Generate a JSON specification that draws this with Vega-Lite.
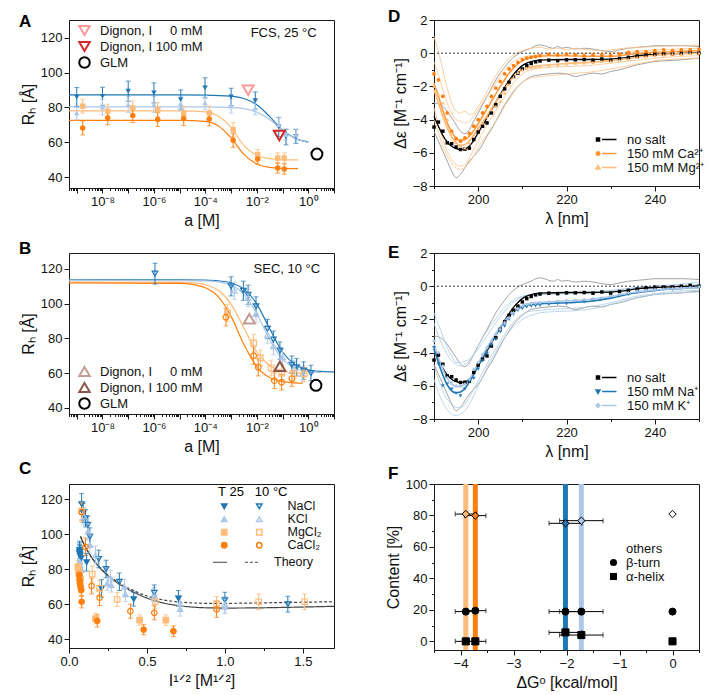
{
  "$schema": "https://vega.github.io/schema/vega-lite/v6.json",
  "padding": {"left": 18, "top": 7, "right": 2, "bottom": 2},
  "config": {
    "font": "Liberation Sans",
    "view": {"stroke": "#1a1a1a", "strokeWidth": 1},
    "axis": {"labelFont": "Liberation Sans", "titleFont": "Liberation Sans", "labelFontSize": 13, "titleFontSize": 16, "titleFontWeight": "normal", "labelColor": "#111", "titleColor": "#111", "tickColor": "#1a1a1a", "domainColor": "#1a1a1a", "grid": false, "labelOverlap": false, "labelFlush": false, "labelPadding": 2, "titlePadding": 4, "tickSize": 5},
    "axisX": {"labelOverlap": false},
    "axisY": {"labelOverlap": false},
    "axisQuantitative": {"labelOverlap": false},
    "legend": {"labelFont": "Liberation Sans", "labelFontSize": 13, "labelColor": "#111", "titleFont": "Liberation Sans", "padding": 0, "rowPadding": 0},
    "title": {"font": "Liberation Sans", "fontSize": 17, "fontWeight": "bold", "anchor": "start", "frame": "group", "baseline": "alphabetic", "color": "#000"}
  },
  "datasets": {
    "aPts": [
      {"s":"NaCl","a":1e-9,"R":85.9,"e":5.5},{"s":"NaCl","a":1e-8,"R":86.4,"e":5.2},{"s":"NaCl","a":1e-7,"R":89.3,"e":5.8},{"s":"NaCl","a":1e-6,"R":88.3,"e":5.8},{"s":"NaCl","a":1.1e-5,"R":84.5,"e":5.5},{"s":"NaCl","a":9.7e-5,"R":91.2,"e":5.8},{"s":"NaCl","a":1e-3,"R":86.0,"e":5.0},{"s":"NaCl","a":0.0087,"R":83.9,"e":5.0},{"s":"NaCl","a":0.071,"R":68.8,"e":5.5},{"s":"NaCl","a":0.136,"R":63.0,"e":4.5},{"s":"NaCl","a":0.33,"R":63.4,"e":4.0},
      {"s":"KCl","a":1e-9,"R":76.8,"e":4},{"s":"KCl","a":1e-8,"R":80.1,"e":4.5},{"s":"KCl","a":1e-7,"R":81.6,"e":4.5},{"s":"KCl","a":1e-6,"R":81.6,"e":4.5},{"s":"KCl","a":1.1e-5,"R":82.2,"e":4},{"s":"KCl","a":9.7e-5,"R":82.6,"e":4},{"s":"KCl","a":1e-3,"R":80.7,"e":4},{"s":"KCl","a":0.0087,"R":79.7,"e":4},{"s":"KCl","a":0.071,"R":70.1,"e":4},{"s":"KCl","a":0.136,"R":64.4,"e":3},{"s":"KCl","a":0.33,"R":64.4,"e":3},
      {"s":"MgCl2","a":1.7e-9,"R":80.7,"e":4},{"s":"MgCl2","a":1.6e-8,"R":77.8,"e":4},{"s":"MgCl2","a":1.5e-7,"R":79.7,"e":4},{"s":"MgCl2","a":1.4e-6,"R":78.8,"e":4},{"s":"MgCl2","a":1.44e-5,"R":76.5,"e":4},{"s":"MgCl2","a":1.42e-4,"R":76.8,"e":4},{"s":"MgCl2","a":1.2e-3,"R":67.2,"e":4},{"s":"MgCl2","a":0.0108,"R":52.9,"e":3},{"s":"MgCl2","a":0.065,"R":50.9,"e":3},{"s":"MgCl2","a":0.117,"R":50.9,"e":3},
      {"s":"CaCl2","a":1.7e-9,"R":68.2,"e":4},{"s":"CaCl2","a":1.6e-8,"R":74.0,"e":4},{"s":"CaCl2","a":1.5e-7,"R":75.3,"e":4},{"s":"CaCl2","a":1.4e-6,"R":73.0,"e":4},{"s":"CaCl2","a":1.44e-5,"R":73.6,"e":4},{"s":"CaCl2","a":1.42e-4,"R":73.4,"e":4},{"s":"CaCl2","a":1.2e-3,"R":61.1,"e":4},{"s":"CaCl2","a":0.0108,"R":50.4,"e":3},{"s":"CaCl2","a":0.065,"R":45.2,"e":3},{"s":"CaCl2","a":0.117,"R":44.6,"e":3}
    ],
    "aFit": [
      {"s":"NaCl","a":5e-10,"R":87.2},{"s":"NaCl","a":1e-5,"R":87.2},{"s":"NaCl","a":1e-4,"R":87.1},{"s":"NaCl","a":1e-3,"R":86.5},{"s":"NaCl","a":0.00316,"R":85.1},{"s":"NaCl","a":0.01,"R":81.5},{"s":"NaCl","a":0.0316,"R":74.7},{"s":"NaCl","a":0.1,"R":67.0},{"s":"NaCl","a":0.316,"R":62.2},{"s":"NaCl","a":1,"R":60.1},
      {"s":"KCl","a":5e-10,"R":80.3},{"s":"KCl","a":1e-4,"R":80.3},{"s":"KCl","a":1e-3,"R":80.0},{"s":"KCl","a":0.00316,"R":79.3},{"s":"KCl","a":0.01,"R":77.3},{"s":"KCl","a":0.0316,"R":73.0},{"s":"KCl","a":0.1,"R":66.9},{"s":"KCl","a":0.316,"R":62.1},{"s":"KCl","a":1,"R":59.8},
      {"s":"MgCl2","a":5e-10,"R":78.0},{"s":"MgCl2","a":1e-5,"R":78.0},{"s":"MgCl2","a":1e-4,"R":77.4},{"s":"MgCl2","a":3.16e-4,"R":75.0},{"s":"MgCl2","a":1e-3,"R":68.5},{"s":"MgCl2","a":0.00316,"R":58.0},{"s":"MgCl2","a":0.01,"R":52.5},{"s":"MgCl2","a":0.0316,"R":50.6},{"s":"MgCl2","a":0.1,"R":50.0},{"s":"MgCl2","a":0.4,"R":49.8},
      {"s":"CaCl2","a":5e-10,"R":72.5},{"s":"CaCl2","a":1e-5,"R":72.5},{"s":"CaCl2","a":1e-4,"R":72.0},{"s":"CaCl2","a":3.16e-4,"R":69.5},{"s":"CaCl2","a":1e-3,"R":62.5},{"s":"CaCl2","a":0.00316,"R":53.0},{"s":"CaCl2","a":0.01,"R":47.5},{"s":"CaCl2","a":0.0316,"R":45.6},{"s":"CaCl2","a":0.1,"R":45.0},{"s":"CaCl2","a":0.4,"R":44.8}
    ],
    "aRef": [
      {"m":"Dignon, I 0 mM","a":0.0046,"R":89.9},{"m":"Dignon, I 100 mM","a":0.075,"R":63.8},{"m":"GLM","a":2.17,"R":53.2}
    ],
    "bPts": [
      {"s":"NaCl","a":1.1e-6,"R":117.3,"e":6},{"s":"NaCl","a":1e-3,"R":110.0,"e":5.5},{"s":"NaCl","a":0.003,"R":107.5,"e":5.5},{"s":"NaCl","a":0.0046,"R":105.2,"e":5.5},{"s":"NaCl","a":0.0093,"R":98.5,"e":5.5},{"s":"NaCl","a":0.026,"R":85.5,"e":5.5},{"s":"NaCl","a":0.044,"R":79.3,"e":5},{"s":"NaCl","a":0.079,"R":73.0,"e":5},{"s":"NaCl","a":0.23,"R":64.9,"e":5},{"s":"NaCl","a":0.35,"R":63.4,"e":5},{"s":"NaCl","a":0.66,"R":61.5,"e":5},{"s":"NaCl","a":1.27,"R":60.1,"e":4.5},
      {"s":"KCl","a":0.00133,"R":107.5,"e":5},{"s":"KCl","a":0.0046,"R":103.3,"e":5},{"s":"KCl","a":0.0093,"R":94.1,"e":5},{"s":"KCl","a":0.026,"R":82.2,"e":5},{"s":"KCl","a":0.044,"R":75.5,"e":5},{"s":"KCl","a":0.1,"R":69.2,"e":4.5},{"s":"KCl","a":0.285,"R":62.6,"e":4.5},{"s":"KCl","a":0.6,"R":59.6,"e":4.5},
      {"s":"MgCl2","a":7.3e-4,"R":94.7,"e":5},{"s":"MgCl2","a":0.0075,"R":77.4,"e":5},{"s":"MgCl2","a":0.0136,"R":68.8,"e":4.5},{"s":"MgCl2","a":0.036,"R":63.0,"e":4.5},{"s":"MgCl2","a":0.092,"R":60.1,"e":4.5},{"s":"MgCl2","a":0.285,"R":59.6,"e":4.5},{"s":"MgCl2","a":0.69,"R":59.6,"e":4.5},
      {"s":"CaCl2","a":6.3e-4,"R":92.2,"e":5},{"s":"CaCl2","a":0.0075,"R":70.1,"e":5},{"s":"CaCl2","a":0.0114,"R":63.4,"e":5},{"s":"CaCl2","a":0.048,"R":55.7,"e":4.5},{"s":"CaCl2","a":0.092,"R":54.8,"e":4.5},{"s":"CaCl2","a":0.23,"R":56.9,"e":4.5}
    ],
    "bFit": [
      {"s":"NaCl","a":5e-10,"R":113.8},{"s":"NaCl","a":1e-5,"R":113.8},{"s":"NaCl","a":1e-4,"R":113.6},{"s":"NaCl","a":3.16e-4,"R":113.2},{"s":"NaCl","a":1e-3,"R":112.0},{"s":"NaCl","a":0.00316,"R":108.4},{"s":"NaCl","a":0.01,"R":99.8},{"s":"NaCl","a":0.0316,"R":85.6},{"s":"NaCl","a":0.1,"R":72.2},{"s":"NaCl","a":0.316,"R":64.9},{"s":"NaCl","a":1,"R":62.0},{"s":"NaCl","a":3.16,"R":61.0},{"s":"NaCl","a":10,"R":60.7},
      {"s":"KCl","a":5e-10,"R":113.5},{"s":"KCl","a":1e-4,"R":113.2},{"s":"KCl","a":3.16e-4,"R":112.6},{"s":"KCl","a":1e-3,"R":110.7},{"s":"KCl","a":0.00316,"R":105.4},{"s":"KCl","a":0.01,"R":94.2},{"s":"KCl","a":0.0316,"R":79.2},{"s":"KCl","a":0.1,"R":68.1},{"s":"KCl","a":0.316,"R":62.8},{"s":"KCl","a":1,"R":60.9},{"s":"KCl","a":3.16,"R":60.3},
      {"s":"MgCl2","a":5e-10,"R":112.5},{"s":"MgCl2","a":1e-5,"R":112.3},{"s":"MgCl2","a":3.16e-5,"R":112.0},{"s":"MgCl2","a":1e-4,"R":110.9},{"s":"MgCl2","a":3.16e-4,"R":107.7},{"s":"MgCl2","a":1e-3,"R":99.8},{"s":"MgCl2","a":0.00316,"R":86.0},{"s":"MgCl2","a":0.01,"R":72.2},{"s":"MgCl2","a":0.0316,"R":64.3},{"s":"MgCl2","a":0.1,"R":61.1},{"s":"MgCl2","a":0.316,"R":60.0},{"s":"MgCl2","a":1,"R":59.7},
      {"s":"CaCl2","a":5e-10,"R":112.0},{"s":"CaCl2","a":1e-5,"R":111.7},{"s":"CaCl2","a":3.16e-5,"R":111.1},{"s":"CaCl2","a":1e-4,"R":109.2},{"s":"CaCl2","a":3.16e-4,"R":104.1},{"s":"CaCl2","a":1e-3,"R":92.7},{"s":"CaCl2","a":0.00316,"R":76.5},{"s":"CaCl2","a":0.01,"R":63.7},{"s":"CaCl2","a":0.0316,"R":57.5},{"s":"CaCl2","a":0.1,"R":55.1},{"s":"CaCl2","a":0.316,"R":54.4},{"s":"CaCl2","a":0.63,"R":54.2}
    ],
    "bRef": [
      {"m":"Dignon, I 0 mM","a":0.0051,"R":91.4},{"m":"Dignon, I 100 mM","a":0.079,"R":64.0},{"m":"GLM","a":1.99,"R":53.0}
    ],
    "cPts": [
      {"s":"NaCl 25","I":0.068,"R":91.0,"e":5},{"s":"NaCl 25","I":0.068,"R":90.0,"e":5},{"s":"NaCl 25","I":0.068,"R":89.1,"e":5},{"s":"NaCl 25","I":0.070,"R":88.5,"e":5},{"s":"NaCl 25","I":0.072,"R":87.7,"e":5},{"s":"NaCl 25","I":0.077,"R":86.2,"e":5},{"s":"NaCl 25","I":0.113,"R":83.9,"e":5},{"s":"NaCl 25","I":0.209,"R":69.0,"e":5},{"s":"NaCl 25","I":0.415,"R":62.9,"e":4},{"s":"NaCl 25","I":0.702,"R":63.3,"e":4.5},
      {"s":"KCl 25","I":0.068,"R":84.3,"e":4},{"s":"KCl 25","I":0.072,"R":81.4,"e":4},{"s":"KCl 25","I":0.081,"R":79.5,"e":4},{"s":"KCl 25","I":0.134,"R":93.8,"e":4.5},{"s":"KCl 25","I":0.245,"R":71.9,"e":4},{"s":"KCl 25","I":0.272,"R":70.9,"e":4},{"s":"KCl 25","I":0.362,"R":65.6,"e":4},{"s":"KCl 25","I":0.547,"R":65.6,"e":4},{"s":"KCl 25","I":0.713,"R":57.2,"e":4},{"s":"KCl 25","I":1.0,"R":58.5,"e":4},
      {"s":"NaCl 10","I":0.081,"R":117.1,"e":6},{"s":"NaCl 10","I":0.091,"R":112.0,"e":5.5},{"s":"NaCl 10","I":0.106,"R":109.1,"e":5},{"s":"NaCl 10","I":0.121,"R":105.3,"e":5},{"s":"NaCl 10","I":0.134,"R":98.6,"e":5},{"s":"NaCl 10","I":0.191,"R":85.8,"e":5},{"s":"NaCl 10","I":0.238,"R":80.1,"e":5},{"s":"NaCl 10","I":0.323,"R":72.8,"e":5},{"s":"NaCl 10","I":0.547,"R":66.5,"e":4.5},{"s":"NaCl 10","I":1.0,"R":62.3,"e":4.5},{"s":"NaCl 10","I":1.404,"R":60.0,"e":4.5},
      {"s":"KCl 10","I":0.096,"R":110.1,"e":5},{"s":"KCl 10","I":0.121,"R":101.5,"e":5},{"s":"KCl 10","I":0.170,"R":88.1,"e":5},{"s":"KCl 10","I":0.266,"R":74.7,"e":4.5},{"s":"KCl 10","I":0.355,"R":69.9,"e":4.5},{"s":"KCl 10","I":0.547,"R":64.2,"e":4.5},{"s":"KCl 10","I":0.713,"R":60.4,"e":4.5},{"s":"KCl 10","I":1.0,"R":59.9,"e":4.5},
      {"s":"MgCl2 25","I":0.057,"R":81.4,"e":3.5},{"s":"MgCl2 25","I":0.062,"R":79.5,"e":3.5},{"s":"MgCl2 25","I":0.064,"R":77.6,"e":3.5},{"s":"MgCl2 25","I":0.068,"R":76.3,"e":3.5},{"s":"MgCl2 25","I":0.074,"R":74.4,"e":3.5},{"s":"MgCl2 25","I":0.170,"R":51.8,"e":3},{"s":"MgCl2 25","I":0.453,"R":50.9,"e":3},{"s":"MgCl2 25","I":0.621,"R":50.9,"e":3},
      {"s":"CaCl2 25","I":0.066,"R":76.7,"e":3.5},{"s":"CaCl2 25","I":0.068,"R":73.8,"e":3.5},{"s":"CaCl2 25","I":0.070,"R":71.9,"e":3.5},{"s":"CaCl2 25","I":0.074,"R":70.0,"e":3.5},{"s":"CaCl2 25","I":0.079,"R":68.1,"e":3.5},{"s":"CaCl2 25","I":0.081,"R":61.4,"e":3.5},{"s":"CaCl2 25","I":0.181,"R":50.5,"e":3.5},{"s":"CaCl2 25","I":0.479,"R":45.5,"e":3},{"s":"CaCl2 25","I":0.670,"R":44.6,"e":3},
      {"s":"MgCl2 10","I":0.081,"R":113.3,"e":5},{"s":"MgCl2 10","I":0.149,"R":77.2,"e":4.5},{"s":"MgCl2 10","I":0.196,"R":69.0,"e":4.5},{"s":"MgCl2 10","I":0.309,"R":62.7,"e":4},{"s":"MgCl2 10","I":0.553,"R":61.4,"e":4},{"s":"MgCl2 10","I":0.947,"R":60.4,"e":4},{"s":"MgCl2 10","I":1.217,"R":61.4,"e":4.5},{"s":"MgCl2 10","I":1.511,"R":61.4,"e":4.5},
      {"s":"CaCl2 10","I":0.081,"R":112.5,"e":5},{"s":"CaCl2 10","I":0.106,"R":92.7,"e":5},{"s":"CaCl2 10","I":0.145,"R":70.4,"e":4.5},{"s":"CaCl2 10","I":0.196,"R":63.7,"e":4.5},{"s":"CaCl2 10","I":0.394,"R":56.0,"e":4},{"s":"CaCl2 10","I":0.547,"R":55.1,"e":4},{"s":"CaCl2 10","I":0.947,"R":57.0,"e":4.5}
    ],
    "cTheory": [
      {"t":"25 °C","I":0.074,"R":98.6},{"t":"25 °C","I":0.1,"R":93.5},{"t":"25 °C","I":0.15,"R":86.0},{"t":"25 °C","I":0.2,"R":80.5},{"t":"25 °C","I":0.3,"R":72.8},{"t":"25 °C","I":0.4,"R":67.5},{"t":"25 °C","I":0.5,"R":63.5},{"t":"25 °C","I":0.6,"R":60.8},{"t":"25 °C","I":0.7,"R":59.2},{"t":"25 °C","I":0.8,"R":58.3},{"t":"25 °C","I":0.9,"R":57.9},{"t":"25 °C","I":1.0,"R":57.8},{"t":"25 °C","I":1.2,"R":57.9},{"t":"25 °C","I":1.4,"R":58.2},{"t":"25 °C","I":1.7,"R":58.8},
      {"t":"10 °C","I":0.074,"R":98.6},{"t":"10 °C","I":0.1,"R":93.6},{"t":"10 °C","I":0.15,"R":86.2},{"t":"10 °C","I":0.2,"R":80.8},{"t":"10 °C","I":0.3,"R":73.4},{"t":"10 °C","I":0.4,"R":68.3},{"t":"10 °C","I":0.5,"R":64.7},{"t":"10 °C","I":0.6,"R":62.5},{"t":"10 °C","I":0.7,"R":61.3},{"t":"10 °C","I":0.8,"R":60.7},{"t":"10 °C","I":0.9,"R":60.5},{"t":"10 °C","I":1.0,"R":60.5},{"t":"10 °C","I":1.2,"R":60.7},{"t":"10 °C","I":1.4,"R":61.0},{"t":"10 °C","I":1.7,"R":61.4}
    ],
    "nsPts": [
      {"w":190,"v":-4.45},{"w":191,"v":-4.15},{"w":192,"v":-4.7},{"w":193,"v":-5.4},{"w":194,"v":-5.45},{"w":195,"v":-5.65},{"w":196,"v":-5.8},{"w":197,"v":-5.78},{"w":198,"v":-5.72},{"w":199,"v":-5.2},{"w":200,"v":-4.75},{"w":201,"v":-4.4},{"w":202,"v":-4.2},{"w":203,"v":-3.6},{"w":204,"v":-3.1},{"w":205,"v":-2.6},{"w":206,"v":-2.15},{"w":207,"v":-1.75},{"w":208,"v":-1.45},{"w":209,"v":-1.2},{"w":210,"v":-0.95},{"w":211,"v":-0.75},{"w":212,"v":-0.62},{"w":213,"v":-0.52},{"w":214,"v":-0.47},{"w":216,"v":-0.42},{"w":218,"v":-0.45},{"w":220,"v":-0.4},{"w":222,"v":-0.4},{"w":224,"v":-0.38},{"w":226,"v":-0.42},{"w":228,"v":-0.35},{"w":230,"v":-0.42},{"w":232,"v":-0.32},{"w":234,"v":-0.25},{"w":236,"v":-0.17},{"w":238,"v":-0.1},{"w":240,"v":-0.06},{"w":242,"v":-0.05},{"w":244,"v":-0.05},{"w":246,"v":0.0},{"w":248,"v":0.05},{"w":250,"v":0.0}
    ],
    "nsFit": [
      {"w":190,"v":-3.8},{"w":191,"v":-4.4},{"w":192,"v":-4.95},{"w":193,"v":-5.35},{"w":194,"v":-5.6},{"w":195,"v":-5.75},{"w":196,"v":-5.8},{"w":197,"v":-5.78},{"w":198,"v":-5.6},{"w":199,"v":-5.25},{"w":200,"v":-4.8},{"w":201,"v":-4.35},{"w":202,"v":-3.9},{"w":203,"v":-3.42},{"w":204,"v":-2.95},{"w":205,"v":-2.5},{"w":206,"v":-2.05},{"w":207,"v":-1.65},{"w":208,"v":-1.28},{"w":209,"v":-0.98},{"w":210,"v":-0.75},{"w":211,"v":-0.6},{"w":212,"v":-0.5},{"w":214,"v":-0.42},{"w":216,"v":-0.4},{"w":220,"v":-0.38},{"w":225,"v":-0.38},{"w":230,"v":-0.36},{"w":233,"v":-0.28},{"w":236,"v":-0.15},{"w":240,"v":-0.08},{"w":245,"v":-0.02},{"w":250,"v":0.02}
    ],
    "nsEnv": [
      {"g":"hi","w":190,"v":-3.0},{"g":"hi","w":191,"v":-3.05},{"g":"hi","w":192,"v":-3.2},{"g":"hi","w":193,"v":-3.5},{"g":"hi","w":194,"v":-3.9},{"g":"hi","w":195,"v":-4.3},{"g":"hi","w":196,"v":-4.7},{"g":"hi","w":197,"v":-4.85},{"g":"hi","w":198,"v":-4.6},{"g":"hi","w":199,"v":-4.1},{"g":"hi","w":200,"v":-3.6},{"g":"hi","w":201,"v":-3.1},{"g":"hi","w":202,"v":-2.6},{"g":"hi","w":203,"v":-2.1},{"g":"hi","w":204,"v":-1.6},{"g":"hi","w":205,"v":-1.2},{"g":"hi","w":206,"v":-0.85},{"g":"hi","w":207,"v":-0.5},{"g":"hi","w":208,"v":-0.25},{"g":"hi","w":209,"v":-0.05},{"g":"hi","w":210,"v":0.1},{"g":"hi","w":211,"v":0.2},{"g":"hi","w":212,"v":0.3},{"g":"hi","w":213,"v":0.45},{"g":"hi","w":214,"v":0.5},{"g":"hi","w":215,"v":0.45},{"g":"hi","w":216,"v":0.35},{"g":"hi","w":217,"v":0.3},{"g":"hi","w":218,"v":0.4},{"g":"hi","w":219,"v":0.3},{"g":"hi","w":220,"v":0.35},{"g":"hi","w":222,"v":0.25},{"g":"hi","w":224,"v":0.3},{"g":"hi","w":226,"v":0.25},{"g":"hi","w":228,"v":0.15},{"g":"hi","w":230,"v":0.1},{"g":"hi","w":232,"v":0.2},{"g":"hi","w":234,"v":0.3},{"g":"hi","w":236,"v":0.35},{"g":"hi","w":238,"v":0.4},{"g":"hi","w":240,"v":0.45},{"g":"hi","w":243,"v":0.45},{"g":"hi","w":246,"v":0.45},{"g":"hi","w":250,"v":0.4},
      {"g":"lo","w":190,"v":-4.7},{"g":"lo","w":191,"v":-5.3},{"g":"lo","w":192,"v":-5.9},{"g":"lo","w":193,"v":-6.5},{"g":"lo","w":194,"v":-7.1},{"g":"lo","w":195,"v":-7.5},{"g":"lo","w":196,"v":-7.3},{"g":"lo","w":197,"v":-6.9},{"g":"lo","w":198,"v":-6.5},{"g":"lo","w":199,"v":-6.2},{"g":"lo","w":200,"v":-5.9},{"g":"lo","w":201,"v":-5.5},{"g":"lo","w":202,"v":-5.0},{"g":"lo","w":203,"v":-4.6},{"g":"lo","w":204,"v":-4.1},{"g":"lo","w":205,"v":-3.6},{"g":"lo","w":206,"v":-3.1},{"g":"lo","w":207,"v":-2.7},{"g":"lo","w":208,"v":-2.3},{"g":"lo","w":209,"v":-2.0},{"g":"lo","w":210,"v":-1.75},{"g":"lo","w":211,"v":-1.55},{"g":"lo","w":212,"v":-1.4},{"g":"lo","w":213,"v":-1.35},{"g":"lo","w":214,"v":-1.3},{"g":"lo","w":216,"v":-1.25},{"g":"lo","w":218,"v":-1.2},{"g":"lo","w":220,"v":-1.25},{"g":"lo","w":222,"v":-1.4},{"g":"lo","w":224,"v":-1.3},{"g":"lo","w":226,"v":-1.2},{"g":"lo","w":228,"v":-1.25},{"g":"lo","w":230,"v":-1.1},{"g":"lo","w":232,"v":-1.0},{"g":"lo","w":234,"v":-0.85},{"g":"lo","w":236,"v":-0.7},{"g":"lo","w":238,"v":-0.6},{"g":"lo","w":240,"v":-0.5},{"g":"lo","w":243,"v":-0.45},{"g":"lo","w":246,"v":-0.4},{"g":"lo","w":250,"v":-0.3}
    ],
    "dPts": [
      {"s":"150 mM Ca²⁺","w":190,"v":-1.25},{"s":"150 mM Ca²⁺","w":191,"v":-1.6},{"s":"150 mM Ca²⁺","w":192,"v":-2.6},{"s":"150 mM Ca²⁺","w":193,"v":-3.6},{"s":"150 mM Ca²⁺","w":194,"v":-4.7},{"s":"150 mM Ca²⁺","w":195,"v":-5.15},{"s":"150 mM Ca²⁺","w":196,"v":-5.3},{"s":"150 mM Ca²⁺","w":197,"v":-5.1},{"s":"150 mM Ca²⁺","w":198,"v":-4.85},{"s":"150 mM Ca²⁺","w":199,"v":-4.4},{"s":"150 mM Ca²⁺","w":200,"v":-4.0},{"s":"150 mM Ca²⁺","w":201,"v":-3.6},{"s":"150 mM Ca²⁺","w":202,"v":-3.2},{"s":"150 mM Ca²⁺","w":203,"v":-2.6},{"s":"150 mM Ca²⁺","w":204,"v":-2.1},{"s":"150 mM Ca²⁺","w":205,"v":-1.7},{"s":"150 mM Ca²⁺","w":206,"v":-1.25},{"s":"150 mM Ca²⁺","w":207,"v":-0.95},{"s":"150 mM Ca²⁺","w":208,"v":-0.75},{"s":"150 mM Ca²⁺","w":209,"v":-0.55},{"s":"150 mM Ca²⁺","w":210,"v":-0.4},{"s":"150 mM Ca²⁺","w":211,"v":-0.3},{"s":"150 mM Ca²⁺","w":212,"v":-0.25},{"s":"150 mM Ca²⁺","w":213,"v":-0.2},{"s":"150 mM Ca²⁺","w":214,"v":-0.15},{"s":"150 mM Ca²⁺","w":216,"v":-0.05},{"s":"150 mM Ca²⁺","w":218,"v":-0.1},{"s":"150 mM Ca²⁺","w":220,"v":-0.05},{"s":"150 mM Ca²⁺","w":222,"v":-0.1},{"s":"150 mM Ca²⁺","w":224,"v":-0.15},{"s":"150 mM Ca²⁺","w":226,"v":-0.1},{"s":"150 mM Ca²⁺","w":228,"v":-0.1},{"s":"150 mM Ca²⁺","w":230,"v":-0.15},{"s":"150 mM Ca²⁺","w":232,"v":-0.05},{"s":"150 mM Ca²⁺","w":234,"v":0.05},{"s":"150 mM Ca²⁺","w":236,"v":0.1},{"s":"150 mM Ca²⁺","w":238,"v":0.1},{"s":"150 mM Ca²⁺","w":240,"v":0.15},{"s":"150 mM Ca²⁺","w":242,"v":0.2},{"s":"150 mM Ca²⁺","w":244,"v":0.15},{"s":"150 mM Ca²⁺","w":246,"v":0.2},{"s":"150 mM Ca²⁺","w":248,"v":0.2},{"s":"150 mM Ca²⁺","w":250,"v":0.25},
      {"s":"150 mM Mg²⁺","w":190,"v":-2.0},{"s":"150 mM Mg²⁺","w":191,"v":-2.5},{"s":"150 mM Mg²⁺","w":192,"v":-3.0},{"s":"150 mM Mg²⁺","w":193,"v":-4.0},{"s":"150 mM Mg²⁺","w":194,"v":-4.8},{"s":"150 mM Mg²⁺","w":195,"v":-5.35},{"s":"150 mM Mg²⁺","w":196,"v":-5.6},{"s":"150 mM Mg²⁺","w":197,"v":-5.7},{"s":"150 mM Mg²⁺","w":198,"v":-5.4},{"s":"150 mM Mg²⁺","w":199,"v":-4.9},{"s":"150 mM Mg²⁺","w":200,"v":-4.5},{"s":"150 mM Mg²⁺","w":201,"v":-4.2},{"s":"150 mM Mg²⁺","w":202,"v":-3.85},{"s":"150 mM Mg²⁺","w":203,"v":-3.4},{"s":"150 mM Mg²⁺","w":204,"v":-3.2},{"s":"150 mM Mg²⁺","w":205,"v":-2.9},{"s":"150 mM Mg²⁺","w":206,"v":-2.4},{"s":"150 mM Mg²⁺","w":207,"v":-1.9},{"s":"150 mM Mg²⁺","w":208,"v":-1.45},{"s":"150 mM Mg²⁺","w":209,"v":-1.15},{"s":"150 mM Mg²⁺","w":210,"v":-1.0},{"s":"150 mM Mg²⁺","w":211,"v":-0.9},{"s":"150 mM Mg²⁺","w":212,"v":-0.85},{"s":"150 mM Mg²⁺","w":213,"v":-0.82},{"s":"150 mM Mg²⁺","w":214,"v":-0.8},{"s":"150 mM Mg²⁺","w":216,"v":-0.75},{"s":"150 mM Mg²⁺","w":218,"v":-0.72},{"s":"150 mM Mg²⁺","w":220,"v":-0.65},{"s":"150 mM Mg²⁺","w":222,"v":-0.6},{"s":"150 mM Mg²⁺","w":224,"v":-0.58},{"s":"150 mM Mg²⁺","w":226,"v":-0.55},{"s":"150 mM Mg²⁺","w":228,"v":-0.5},{"s":"150 mM Mg²⁺","w":230,"v":-0.48},{"s":"150 mM Mg²⁺","w":232,"v":-0.42},{"s":"150 mM Mg²⁺","w":234,"v":-0.35},{"s":"150 mM Mg²⁺","w":236,"v":-0.25},{"s":"150 mM Mg²⁺","w":238,"v":-0.2},{"s":"150 mM Mg²⁺","w":240,"v":-0.15},{"s":"150 mM Mg²⁺","w":242,"v":-0.1},{"s":"150 mM Mg²⁺","w":244,"v":-0.05},{"s":"150 mM Mg²⁺","w":246,"v":-0.05},{"s":"150 mM Mg²⁺","w":248,"v":0.0},{"s":"150 mM Mg²⁺","w":250,"v":0.0}
    ],
    "dFit": [
      {"s":"150 mM Ca²⁺","w":190,"v":-1.8},{"s":"150 mM Ca²⁺","w":191,"v":-2.6},{"s":"150 mM Ca²⁺","w":192,"v":-3.45},{"s":"150 mM Ca²⁺","w":193,"v":-4.2},{"s":"150 mM Ca²⁺","w":194,"v":-4.75},{"s":"150 mM Ca²⁺","w":195,"v":-5.1},{"s":"150 mM Ca²⁺","w":196,"v":-5.25},{"s":"150 mM Ca²⁺","w":197,"v":-5.2},{"s":"150 mM Ca²⁺","w":198,"v":-5.0},{"s":"150 mM Ca²⁺","w":199,"v":-4.65},{"s":"150 mM Ca²⁺","w":200,"v":-4.25},{"s":"150 mM Ca²⁺","w":201,"v":-3.8},{"s":"150 mM Ca²⁺","w":202,"v":-3.35},{"s":"150 mM Ca²⁺","w":203,"v":-2.9},{"s":"150 mM Ca²⁺","w":204,"v":-2.45},{"s":"150 mM Ca²⁺","w":205,"v":-2.0},{"s":"150 mM Ca²⁺","w":206,"v":-1.6},{"s":"150 mM Ca²⁺","w":207,"v":-1.2},{"s":"150 mM Ca²⁺","w":208,"v":-0.9},{"s":"150 mM Ca²⁺","w":209,"v":-0.65},{"s":"150 mM Ca²⁺","w":210,"v":-0.45},{"s":"150 mM Ca²⁺","w":211,"v":-0.32},{"s":"150 mM Ca²⁺","w":212,"v":-0.25},{"s":"150 mM Ca²⁺","w":214,"v":-0.18},{"s":"150 mM Ca²⁺","w":216,"v":-0.15},{"s":"150 mM Ca²⁺","w":220,"v":-0.15},{"s":"150 mM Ca²⁺","w":225,"v":-0.18},{"s":"150 mM Ca²⁺","w":230,"v":-0.18},{"s":"150 mM Ca²⁺","w":235,"v":-0.05},{"s":"150 mM Ca²⁺","w":240,"v":0.05},{"s":"150 mM Ca²⁺","w":245,"v":0.1},{"s":"150 mM Ca²⁺","w":250,"v":0.15},
      {"s":"150 mM Mg²⁺","w":190,"v":-2.2},{"s":"150 mM Mg²⁺","w":191,"v":-3.0},{"s":"150 mM Mg²⁺","w":192,"v":-3.8},{"s":"150 mM Mg²⁺","w":193,"v":-4.5},{"s":"150 mM Mg²⁺","w":194,"v":-5.05},{"s":"150 mM Mg²⁺","w":195,"v":-5.4},{"s":"150 mM Mg²⁺","w":196,"v":-5.55},{"s":"150 mM Mg²⁺","w":197,"v":-5.5},{"s":"150 mM Mg²⁺","w":198,"v":-5.3},{"s":"150 mM Mg²⁺","w":199,"v":-4.95},{"s":"150 mM Mg²⁺","w":200,"v":-4.55},{"s":"150 mM Mg²⁺","w":201,"v":-4.15},{"s":"150 mM Mg²⁺","w":202,"v":-3.75},{"s":"150 mM Mg²⁺","w":203,"v":-3.35},{"s":"150 mM Mg²⁺","w":204,"v":-2.95},{"s":"150 mM Mg²⁺","w":205,"v":-2.55},{"s":"150 mM Mg²⁺","w":206,"v":-2.15},{"s":"150 mM Mg²⁺","w":207,"v":-1.75},{"s":"150 mM Mg²⁺","w":208,"v":-1.4},{"s":"150 mM Mg²⁺","w":209,"v":-1.15},{"s":"150 mM Mg²⁺","w":210,"v":-0.98},{"s":"150 mM Mg²⁺","w":211,"v":-0.88},{"s":"150 mM Mg²⁺","w":212,"v":-0.82},{"s":"150 mM Mg²⁺","w":214,"v":-0.75},{"s":"150 mM Mg²⁺","w":216,"v":-0.7},{"s":"150 mM Mg²⁺","w":220,"v":-0.62},{"s":"150 mM Mg²⁺","w":225,"v":-0.55},{"s":"150 mM Mg²⁺","w":230,"v":-0.45},{"s":"150 mM Mg²⁺","w":235,"v":-0.28},{"s":"150 mM Mg²⁺","w":240,"v":-0.12},{"s":"150 mM Mg²⁺","w":245,"v":-0.04},{"s":"150 mM Mg²⁺","w":250,"v":0.0}
    ],
    "dEnv": [
      {"g":"ca_hi","w":190,"v":1.0},{"g":"ca_hi","w":191,"v":0.1},{"g":"ca_hi","w":192,"v":-1.0},{"g":"ca_hi","w":193,"v":-2.1},{"g":"ca_hi","w":194,"v":-3.0},{"g":"ca_hi","w":195,"v":-3.5},{"g":"ca_hi","w":196,"v":-3.6},{"g":"ca_hi","w":197,"v":-3.5},{"g":"ca_hi","w":198,"v":-3.7},{"g":"ca_hi","w":199,"v":-3.6},{"g":"ca_hi","w":200,"v":-3.2},{"g":"ca_hi","w":201,"v":-2.8},{"g":"ca_hi","w":202,"v":-2.3},{"g":"ca_hi","w":203,"v":-1.8},{"g":"ca_hi","w":204,"v":-1.35},{"g":"ca_hi","w":205,"v":-0.95},{"g":"ca_hi","w":206,"v":-0.6},{"g":"ca_hi","w":207,"v":-0.3},{"g":"ca_hi","w":208,"v":-0.1},{"g":"ca_hi","w":209,"v":0.05},{"g":"ca_hi","w":210,"v":0.15},{"g":"ca_hi","w":212,"v":0.3},{"g":"ca_hi","w":214,"v":0.35},{"g":"ca_hi","w":216,"v":0.25},{"g":"ca_hi","w":218,"v":0.3},{"g":"ca_hi","w":220,"v":0.2},{"g":"ca_hi","w":222,"v":0.3},{"g":"ca_hi","w":225,"v":0.2},{"g":"ca_hi","w":228,"v":0.15},{"g":"ca_hi","w":230,"v":0.2},{"g":"ca_hi","w":233,"v":0.3},{"g":"ca_hi","w":236,"v":0.35},{"g":"ca_hi","w":240,"v":0.4},{"g":"ca_hi","w":245,"v":0.45},{"g":"ca_hi","w":250,"v":0.5},
      {"g":"ca_lo","w":190,"v":-3.3},{"g":"ca_lo","w":191,"v":-4.3},{"g":"ca_lo","w":192,"v":-5.2},{"g":"ca_lo","w":193,"v":-5.9},{"g":"ca_lo","w":194,"v":-6.4},{"g":"ca_lo","w":195,"v":-6.7},{"g":"ca_lo","w":196,"v":-6.8},{"g":"ca_lo","w":197,"v":-6.7},{"g":"ca_lo","w":198,"v":-6.3},{"g":"ca_lo","w":199,"v":-5.8},{"g":"ca_lo","w":200,"v":-5.3},{"g":"ca_lo","w":201,"v":-4.8},{"g":"ca_lo","w":202,"v":-4.3},{"g":"ca_lo","w":203,"v":-3.9},{"g":"ca_lo","w":204,"v":-3.5},{"g":"ca_lo","w":205,"v":-3.0},{"g":"ca_lo","w":206,"v":-2.6},{"g":"ca_lo","w":207,"v":-2.2},{"g":"ca_lo","w":208,"v":-1.8},{"g":"ca_lo","w":209,"v":-1.5},{"g":"ca_lo","w":210,"v":-1.25},{"g":"ca_lo","w":212,"v":-1.0},{"g":"ca_lo","w":214,"v":-0.9},{"g":"ca_lo","w":216,"v":-0.85},{"g":"ca_lo","w":220,"v":-0.8},{"g":"ca_lo","w":225,"v":-0.75},{"g":"ca_lo","w":230,"v":-0.6},{"g":"ca_lo","w":235,"v":-0.45},{"g":"ca_lo","w":240,"v":-0.3},{"g":"ca_lo","w":245,"v":-0.2},{"g":"ca_lo","w":250,"v":-0.15},
      {"g":"mg_hi","w":190,"v":-0.5},{"g":"mg_hi","w":191,"v":-1.3},{"g":"mg_hi","w":192,"v":-2.2},{"g":"mg_hi","w":193,"v":-3.0},{"g":"mg_hi","w":194,"v":-3.6},{"g":"mg_hi","w":195,"v":-4.0},{"g":"mg_hi","w":196,"v":-4.1},{"g":"mg_hi","w":197,"v":-4.2},{"g":"mg_hi","w":198,"v":-4.1},{"g":"mg_hi","w":199,"v":-3.8},{"g":"mg_hi","w":200,"v":-3.4},{"g":"mg_hi","w":201,"v":-3.0},{"g":"mg_hi","w":202,"v":-2.6},{"g":"mg_hi","w":203,"v":-2.2},{"g":"mg_hi","w":204,"v":-1.8},{"g":"mg_hi","w":205,"v":-1.4},{"g":"mg_hi","w":206,"v":-1.05},{"g":"mg_hi","w":207,"v":-0.75},{"g":"mg_hi","w":208,"v":-0.5},{"g":"mg_hi","w":209,"v":-0.35},{"g":"mg_hi","w":210,"v":-0.25},{"g":"mg_hi","w":212,"v":-0.15},{"g":"mg_hi","w":214,"v":-0.1},{"g":"mg_hi","w":216,"v":-0.1},{"g":"mg_hi","w":220,"v":-0.05},{"g":"mg_hi","w":225,"v":0.0},{"g":"mg_hi","w":230,"v":0.0},{"g":"mg_hi","w":235,"v":0.1},{"g":"mg_hi","w":240,"v":0.2},{"g":"mg_hi","w":245,"v":0.25},{"g":"mg_hi","w":250,"v":0.3},
      {"g":"mg_lo","w":190,"v":-4.0},{"g":"mg_lo","w":191,"v":-4.8},{"g":"mg_lo","w":192,"v":-5.6},{"g":"mg_lo","w":193,"v":-6.2},{"g":"mg_lo","w":194,"v":-6.6},{"g":"mg_lo","w":195,"v":-6.9},{"g":"mg_lo","w":196,"v":-7.0},{"g":"mg_lo","w":197,"v":-6.9},{"g":"mg_lo","w":198,"v":-6.6},{"g":"mg_lo","w":199,"v":-6.2},{"g":"mg_lo","w":200,"v":-5.7},{"g":"mg_lo","w":201,"v":-5.3},{"g":"mg_lo","w":202,"v":-4.9},{"g":"mg_lo","w":203,"v":-4.5},{"g":"mg_lo","w":204,"v":-4.1},{"g":"mg_lo","w":205,"v":-3.7},{"g":"mg_lo","w":206,"v":-3.2},{"g":"mg_lo","w":207,"v":-2.8},{"g":"mg_lo","w":208,"v":-2.4},{"g":"mg_lo","w":209,"v":-2.0},{"g":"mg_lo","w":210,"v":-1.75},{"g":"mg_lo","w":212,"v":-1.5},{"g":"mg_lo","w":214,"v":-1.4},{"g":"mg_lo","w":216,"v":-1.35},{"g":"mg_lo","w":220,"v":-1.25},{"g":"mg_lo","w":225,"v":-1.15},{"g":"mg_lo","w":230,"v":-0.95},{"g":"mg_lo","w":235,"v":-0.7},{"g":"mg_lo","w":240,"v":-0.45},{"g":"mg_lo","w":245,"v":-0.35},{"g":"mg_lo","w":250,"v":-0.3}
    ],
    "ePts": [
      {"s":"150 mM Na⁺","w":190,"v":-3.7},{"s":"150 mM Na⁺","w":191,"v":-4.7},{"s":"150 mM Na⁺","w":192,"v":-6.0},{"s":"150 mM Na⁺","w":193,"v":-5.9},{"s":"150 mM Na⁺","w":194,"v":-6.2},{"s":"150 mM Na⁺","w":195,"v":-6.45},{"s":"150 mM Na⁺","w":196,"v":-6.6},{"s":"150 mM Na⁺","w":197,"v":-6.2},{"s":"150 mM Na⁺","w":198,"v":-5.75},{"s":"150 mM Na⁺","w":199,"v":-5.55},{"s":"150 mM Na⁺","w":200,"v":-5.0},{"s":"150 mM Na⁺","w":201,"v":-4.5},{"s":"150 mM Na⁺","w":202,"v":-4.05},{"s":"150 mM Na⁺","w":203,"v":-3.55},{"s":"150 mM Na⁺","w":204,"v":-3.2},{"s":"150 mM Na⁺","w":205,"v":-2.75},{"s":"150 mM Na⁺","w":206,"v":-2.4},{"s":"150 mM Na⁺","w":207,"v":-2.0},{"s":"150 mM Na⁺","w":208,"v":-1.7},{"s":"150 mM Na⁺","w":209,"v":-1.45},{"s":"150 mM Na⁺","w":210,"v":-1.35},{"s":"150 mM Na⁺","w":211,"v":-1.25},{"s":"150 mM Na⁺","w":212,"v":-1.2},{"s":"150 mM Na⁺","w":213,"v":-1.18},{"s":"150 mM Na⁺","w":214,"v":-1.15},{"s":"150 mM Na⁺","w":216,"v":-1.1},{"s":"150 mM Na⁺","w":218,"v":-1.05},{"s":"150 mM Na⁺","w":220,"v":-1.05},{"s":"150 mM Na⁺","w":222,"v":-0.95},{"s":"150 mM Na⁺","w":224,"v":-0.95},{"s":"150 mM Na⁺","w":226,"v":-0.85},{"s":"150 mM Na⁺","w":228,"v":-0.8},{"s":"150 mM Na⁺","w":230,"v":-0.7},{"s":"150 mM Na⁺","w":232,"v":-0.6},{"s":"150 mM Na⁺","w":234,"v":-0.5},{"s":"150 mM Na⁺","w":236,"v":-0.35},{"s":"150 mM Na⁺","w":238,"v":-0.3},{"s":"150 mM Na⁺","w":240,"v":-0.25},{"s":"150 mM Na⁺","w":242,"v":-0.2},{"s":"150 mM Na⁺","w":244,"v":-0.2},{"s":"150 mM Na⁺","w":246,"v":-0.15},{"s":"150 mM Na⁺","w":248,"v":-0.1},{"s":"150 mM Na⁺","w":250,"v":-0.05},
      {"s":"150 mM K⁺","w":190,"v":-3.3},{"s":"150 mM K⁺","w":191,"v":-4.0},{"s":"150 mM K⁺","w":192,"v":-4.8},{"s":"150 mM K⁺","w":193,"v":-5.5},{"s":"150 mM K⁺","w":194,"v":-5.8},{"s":"150 mM K⁺","w":195,"v":-6.0},{"s":"150 mM K⁺","w":196,"v":-6.0},{"s":"150 mM K⁺","w":197,"v":-5.9},{"s":"150 mM K⁺","w":198,"v":-5.6},{"s":"150 mM K⁺","w":199,"v":-5.0},{"s":"150 mM K⁺","w":200,"v":-4.6},{"s":"150 mM K⁺","w":201,"v":-4.1},{"s":"150 mM K⁺","w":202,"v":-3.7},{"s":"150 mM K⁺","w":203,"v":-3.3},{"s":"150 mM K⁺","w":204,"v":-2.9},{"s":"150 mM K⁺","w":205,"v":-2.6},{"s":"150 mM K⁺","w":206,"v":-2.2},{"s":"150 mM K⁺","w":207,"v":-1.9},{"s":"150 mM K⁺","w":208,"v":-1.6},{"s":"150 mM K⁺","w":209,"v":-1.35},{"s":"150 mM K⁺","w":210,"v":-1.2},{"s":"150 mM K⁺","w":211,"v":-1.1},{"s":"150 mM K⁺","w":212,"v":-1.05},{"s":"150 mM K⁺","w":213,"v":-1.02},{"s":"150 mM K⁺","w":214,"v":-1.0},{"s":"150 mM K⁺","w":216,"v":-0.95},{"s":"150 mM K⁺","w":218,"v":-0.9},{"s":"150 mM K⁺","w":220,"v":-0.85},{"s":"150 mM K⁺","w":222,"v":-0.85},{"s":"150 mM K⁺","w":224,"v":-0.8},{"s":"150 mM K⁺","w":226,"v":-0.75},{"s":"150 mM K⁺","w":228,"v":-0.7},{"s":"150 mM K⁺","w":230,"v":-0.6},{"s":"150 mM K⁺","w":232,"v":-0.5},{"s":"150 mM K⁺","w":234,"v":-0.4},{"s":"150 mM K⁺","w":236,"v":-0.3},{"s":"150 mM K⁺","w":238,"v":-0.25},{"s":"150 mM K⁺","w":240,"v":-0.2},{"s":"150 mM K⁺","w":242,"v":-0.18},{"s":"150 mM K⁺","w":244,"v":-0.15},{"s":"150 mM K⁺","w":246,"v":-0.12},{"s":"150 mM K⁺","w":248,"v":-0.1},{"s":"150 mM K⁺","w":250,"v":-0.05}
    ],
    "eFit": [
      {"s":"150 mM Na⁺","w":190,"v":-3.8},{"s":"150 mM Na⁺","w":191,"v":-4.6},{"s":"150 mM Na⁺","w":192,"v":-5.35},{"s":"150 mM Na⁺","w":193,"v":-5.95},{"s":"150 mM Na⁺","w":194,"v":-6.3},{"s":"150 mM Na⁺","w":195,"v":-6.42},{"s":"150 mM Na⁺","w":196,"v":-6.38},{"s":"150 mM Na⁺","w":197,"v":-6.15},{"s":"150 mM Na⁺","w":198,"v":-5.78},{"s":"150 mM Na⁺","w":199,"v":-5.3},{"s":"150 mM Na⁺","w":200,"v":-4.8},{"s":"150 mM Na⁺","w":201,"v":-4.3},{"s":"150 mM Na⁺","w":202,"v":-3.8},{"s":"150 mM Na⁺","w":203,"v":-3.35},{"s":"150 mM Na⁺","w":204,"v":-2.92},{"s":"150 mM Na⁺","w":205,"v":-2.52},{"s":"150 mM Na⁺","w":206,"v":-2.15},{"s":"150 mM Na⁺","w":207,"v":-1.82},{"s":"150 mM Na⁺","w":208,"v":-1.55},{"s":"150 mM Na⁺","w":209,"v":-1.35},{"s":"150 mM Na⁺","w":210,"v":-1.22},{"s":"150 mM Na⁺","w":211,"v":-1.15},{"s":"150 mM Na⁺","w":212,"v":-1.1},{"s":"150 mM Na⁺","w":214,"v":-1.06},{"s":"150 mM Na⁺","w":216,"v":-1.04},{"s":"150 mM Na⁺","w":220,"v":-1.0},{"s":"150 mM Na⁺","w":225,"v":-0.92},{"s":"150 mM Na⁺","w":230,"v":-0.72},{"s":"150 mM Na⁺","w":235,"v":-0.42},{"s":"150 mM Na⁺","w":240,"v":-0.25},{"s":"150 mM Na⁺","w":245,"v":-0.15},{"s":"150 mM Na⁺","w":250,"v":-0.08},
      {"s":"150 mM K⁺","w":190,"v":-3.5},{"s":"150 mM K⁺","w":191,"v":-4.3},{"s":"150 mM K⁺","w":192,"v":-5.0},{"s":"150 mM K⁺","w":193,"v":-5.55},{"s":"150 mM K⁺","w":194,"v":-5.9},{"s":"150 mM K⁺","w":195,"v":-6.05},{"s":"150 mM K⁺","w":196,"v":-6.05},{"s":"150 mM K⁺","w":197,"v":-5.9},{"s":"150 mM K⁺","w":198,"v":-5.6},{"s":"150 mM K⁺","w":199,"v":-5.15},{"s":"150 mM K⁺","w":200,"v":-4.65},{"s":"150 mM K⁺","w":201,"v":-4.15},{"s":"150 mM K⁺","w":202,"v":-3.7},{"s":"150 mM K⁺","w":203,"v":-3.25},{"s":"150 mM K⁺","w":204,"v":-2.85},{"s":"150 mM K⁺","w":205,"v":-2.45},{"s":"150 mM K⁺","w":206,"v":-2.1},{"s":"150 mM K⁺","w":207,"v":-1.78},{"s":"150 mM K⁺","w":208,"v":-1.5},{"s":"150 mM K⁺","w":209,"v":-1.3},{"s":"150 mM K⁺","w":210,"v":-1.15},{"s":"150 mM K⁺","w":211,"v":-1.07},{"s":"150 mM K⁺","w":212,"v":-1.02},{"s":"150 mM K⁺","w":214,"v":-0.97},{"s":"150 mM K⁺","w":216,"v":-0.94},{"s":"150 mM K⁺","w":220,"v":-0.88},{"s":"150 mM K⁺","w":225,"v":-0.8},{"s":"150 mM K⁺","w":230,"v":-0.62},{"s":"150 mM K⁺","w":235,"v":-0.38},{"s":"150 mM K⁺","w":240,"v":-0.22},{"s":"150 mM K⁺","w":245,"v":-0.14},{"s":"150 mM K⁺","w":250,"v":-0.08}
    ],
    "eEnv": [
      {"g":"na_hi","w":190,"v":-1.6},{"g":"na_hi","w":191,"v":-2.3},{"g":"na_hi","w":192,"v":-3.0},{"g":"na_hi","w":193,"v":-3.7},{"g":"na_hi","w":194,"v":-4.2},{"g":"na_hi","w":195,"v":-4.6},{"g":"na_hi","w":196,"v":-4.6},{"g":"na_hi","w":197,"v":-4.5},{"g":"na_hi","w":198,"v":-4.4},{"g":"na_hi","w":199,"v":-4.1},{"g":"na_hi","w":200,"v":-3.8},{"g":"na_hi","w":201,"v":-3.4},{"g":"na_hi","w":202,"v":-3.0},{"g":"na_hi","w":203,"v":-2.6},{"g":"na_hi","w":204,"v":-2.2},{"g":"na_hi","w":205,"v":-1.85},{"g":"na_hi","w":206,"v":-1.5},{"g":"na_hi","w":207,"v":-1.2},{"g":"na_hi","w":208,"v":-0.95},{"g":"na_hi","w":209,"v":-0.8},{"g":"na_hi","w":210,"v":-0.65},{"g":"na_hi","w":212,"v":-0.55},{"g":"na_hi","w":214,"v":-0.5},{"g":"na_hi","w":216,"v":-0.5},{"g":"na_hi","w":220,"v":-0.45},{"g":"na_hi","w":225,"v":-0.4},{"g":"na_hi","w":230,"v":-0.3},{"g":"na_hi","w":235,"v":-0.12},{"g":"na_hi","w":240,"v":0.0},{"g":"na_hi","w":245,"v":0.1},{"g":"na_hi","w":250,"v":0.25},
      {"g":"na_lo","w":190,"v":-5.6},{"g":"na_lo","w":191,"v":-6.4},{"g":"na_lo","w":192,"v":-7.0},{"g":"na_lo","w":193,"v":-7.45},{"g":"na_lo","w":194,"v":-7.7},{"g":"na_lo","w":195,"v":-7.8},{"g":"na_lo","w":196,"v":-7.7},{"g":"na_lo","w":197,"v":-7.5},{"g":"na_lo","w":198,"v":-7.1},{"g":"na_lo","w":199,"v":-6.6},{"g":"na_lo","w":200,"v":-6.0},{"g":"na_lo","w":201,"v":-5.5},{"g":"na_lo","w":202,"v":-4.9},{"g":"na_lo","w":203,"v":-4.4},{"g":"na_lo","w":204,"v":-3.95},{"g":"na_lo","w":205,"v":-3.5},{"g":"na_lo","w":206,"v":-3.1},{"g":"na_lo","w":207,"v":-2.75},{"g":"na_lo","w":208,"v":-2.45},{"g":"na_lo","w":209,"v":-2.2},{"g":"na_lo","w":210,"v":-2.0},{"g":"na_lo","w":212,"v":-1.75},{"g":"na_lo","w":214,"v":-1.6},{"g":"na_lo","w":216,"v":-1.55},{"g":"na_lo","w":220,"v":-1.5},{"g":"na_lo","w":225,"v":-1.4},{"g":"na_lo","w":230,"v":-1.1},{"g":"na_lo","w":235,"v":-0.75},{"g":"na_lo","w":240,"v":-0.5},{"g":"na_lo","w":245,"v":-0.4},{"g":"na_lo","w":250,"v":-0.35},
      {"g":"k_hi","w":190,"v":-2.2},{"g":"k_hi","w":191,"v":-3.0},{"g":"k_hi","w":192,"v":-3.6},{"g":"k_hi","w":193,"v":-4.1},{"g":"k_hi","w":194,"v":-4.5},{"g":"k_hi","w":195,"v":-4.7},{"g":"k_hi","w":196,"v":-4.8},{"g":"k_hi","w":197,"v":-4.7},{"g":"k_hi","w":198,"v":-4.5},{"g":"k_hi","w":199,"v":-4.1},{"g":"k_hi","w":200,"v":-3.6},{"g":"k_hi","w":201,"v":-3.1},{"g":"k_hi","w":202,"v":-2.7},{"g":"k_hi","w":203,"v":-2.3},{"g":"k_hi","w":204,"v":-1.95},{"g":"k_hi","w":205,"v":-1.6},{"g":"k_hi","w":206,"v":-1.3},{"g":"k_hi","w":207,"v":-1.05},{"g":"k_hi","w":208,"v":-0.85},{"g":"k_hi","w":209,"v":-0.7},{"g":"k_hi","w":210,"v":-0.6},{"g":"k_hi","w":212,"v":-0.5},{"g":"k_hi","w":214,"v":-0.45},{"g":"k_hi","w":216,"v":-0.45},{"g":"k_hi","w":220,"v":-0.4},{"g":"k_hi","w":225,"v":-0.35},{"g":"k_hi","w":230,"v":-0.25},{"g":"k_hi","w":235,"v":-0.1},{"g":"k_hi","w":240,"v":0.0},{"g":"k_hi","w":245,"v":0.05},{"g":"k_hi","w":250,"v":0.1},
      {"g":"k_lo","w":190,"v":-4.8},{"g":"k_lo","w":191,"v":-5.6},{"g":"k_lo","w":192,"v":-6.3},{"g":"k_lo","w":193,"v":-6.8},{"g":"k_lo","w":194,"v":-7.1},{"g":"k_lo","w":195,"v":-7.3},{"g":"k_lo","w":196,"v":-7.3},{"g":"k_lo","w":197,"v":-7.1},{"g":"k_lo","w":198,"v":-6.7},{"g":"k_lo","w":199,"v":-6.2},{"g":"k_lo","w":200,"v":-5.7},{"g":"k_lo","w":201,"v":-5.2},{"g":"k_lo","w":202,"v":-4.7},{"g":"k_lo","w":203,"v":-4.2},{"g":"k_lo","w":204,"v":-3.75},{"g":"k_lo","w":205,"v":-3.3},{"g":"k_lo","w":206,"v":-2.9},{"g":"k_lo","w":207,"v":-2.5},{"g":"k_lo","w":208,"v":-2.15},{"g":"k_lo","w":209,"v":-1.9},{"g":"k_lo","w":210,"v":-1.7},{"g":"k_lo","w":212,"v":-1.5},{"g":"k_lo","w":214,"v":-1.45},{"g":"k_lo","w":216,"v":-1.4},{"g":"k_lo","w":220,"v":-1.35},{"g":"k_lo","w":225,"v":-1.25},{"g":"k_lo","w":230,"v":-1.0},{"g":"k_lo","w":235,"v":-0.65},{"g":"k_lo","w":240,"v":-0.45},{"g":"k_lo","w":245,"v":-0.3},{"g":"k_lo","w":250,"v":-0.25}
    ],
    "fBands": [
      {"g":"MgCl2","dg":-3.9},{"g":"CaCl2","dg":-3.72},{"g":"NaCl","dg":-2.02},{"g":"KCl","dg":-1.72}
    ],
    "fPts": [
      {"t":"others","g":"MgCl2","dg":-3.9,"v":80.9,"e":0.2},{"t":"others","g":"CaCl2","dg":-3.72,"v":79.9,"e":0.2},{"t":"others","g":"NaCl","dg":-2.02,"v":75.0,"e":0.31},{"t":"others","g":"KCl","dg":-1.72,"v":76.7,"e":0.41},{"t":"others","g":"none","dg":0,"v":80.9,"e":0},
      {"t":"β-turn","g":"MgCl2","dg":-3.9,"v":18.9,"e":0.2},{"t":"β-turn","g":"CaCl2","dg":-3.72,"v":19.5,"e":0.2},{"t":"β-turn","g":"NaCl","dg":-2.02,"v":18.9,"e":0.31},{"t":"β-turn","g":"KCl","dg":-1.72,"v":18.9,"e":0.41},{"t":"β-turn","g":"none","dg":0,"v":18.9,"e":0},
      {"t":"α-helix","g":"MgCl2","dg":-3.9,"v":0,"e":0.2},{"t":"α-helix","g":"CaCl2","dg":-3.72,"v":0,"e":0.2},{"t":"α-helix","g":"NaCl","dg":-2.02,"v":5.7,"e":0.31},{"t":"α-helix","g":"KCl","dg":-1.72,"v":4.0,"e":0.41},{"t":"α-helix","g":"none","dg":0,"v":0,"e":0}
    ]
  },
  "columns": 2,
  "spacing": {"row": 65, "column": 100},
  "bounds": "flush",
  "resolve": {
    "scale": {"color": "independent", "shape": "independent", "fill": "independent", "stroke": "independent", "strokeDash": "independent"},
    "legend": {"color": "independent", "shape": "independent", "fill": "independent", "stroke": "independent", "strokeDash": "independent"}
  },
  "concat": [
    {
      "width": 265, "height": 168,
      "title": {"text": "A", "dx": -50, "offset": -11},
      "resolve": {"scale": {"color": "independent", "shape": "independent"}},
      "layer": [
        {"data": {"name": "aFit"}, "mark": {"type": "line", "interpolate": "monotone", "strokeWidth": 1.2, "clip": true},
         "encoding": {
           "x": {"field": "a", "type": "quantitative", "title": "a [M]", "scale": {"type": "log", "domain": [5e-10, 10], "nice": false},
             "axis": {"labelOverlap": false, "values": [5e-10,6e-10,7e-10,8e-10,9e-10,1e-9,2e-9,3e-9,4e-9,5e-9,6e-9,7e-9,8e-9,9e-9,1e-8,2e-8,3e-8,4e-8,5e-8,6e-8,7e-8,8e-8,9e-8,1e-7,2e-7,3e-7,4e-7,5e-7,6e-7,7e-7,8e-7,9e-7,1e-6,2e-6,3e-6,4e-6,5e-6,6e-6,7e-6,8e-6,9e-6,1e-5,2e-5,3e-5,4e-5,5e-5,6e-5,7e-5,8e-5,9e-5,1e-4,2e-4,3e-4,4e-4,5e-4,6e-4,7e-4,8e-4,9e-4,0.001,0.002,0.003,0.004,0.005,0.006,0.007,0.008,0.009,0.01,0.02,0.03,0.04,0.05,0.06,0.07,0.08,0.09,0.1,0.2,0.3,0.4,0.5,0.6,0.7,0.8,0.9,1,2,3,4,5,6,7,8,9,10],
               "labelExpr": "abs(log(datum.value)/LN10 - round(log(datum.value)/LN10)) > 0.01 ? '' : round(log(datum.value)/LN10) == -8 ? '10⁻⁸' : round(log(datum.value)/LN10) == -6 ? '10⁻⁶' : round(log(datum.value)/LN10) == -4 ? '10⁻⁴' : round(log(datum.value)/LN10) == -2 ? '10⁻²' : round(log(datum.value)/LN10) == 0 ? '10⁰' : ''",
               "tickSize": {"condition": {"test": "abs(log(datum.value)/LN10 - round(log(datum.value)/LN10)) > 0.01", "value": 2.5}, "value": 5}}},
           "y": {"field": "R", "type": "quantitative", "title": "Rₕ [Å]", "scale": {"domain": [33.7, 130.2], "nice": false},
             "axis": {"labelOverlap": false, "values": [40,50,60,70,80,90,100,110,120], "labelExpr": "datum.value % 20 == 0 ? datum.label : ''", "tickSize": {"condition": {"test": "datum.value % 20 != 0", "value": 2.5}, "value": 5}}},
           "color": {"field": "s", "type": "nominal", "scale": {"domain": ["NaCl","KCl","MgCl2","CaCl2"], "range": ["#1f77b4","#aec7e8","#ffbb78","#ff7f0e"]}, "legend": null}}},
        {"data": {"name": "aPts"}, "mark": {"type": "errorbar", "ticks": {"size": 5}, "thickness": 1},
         "encoding": {"x": {"field": "a", "type": "quantitative", "title": "a [M]"}, "y": {"field": "R", "type": "quantitative", "title": "Rₕ [Å]"}, "yError": {"field": "e"},
           "color": {"field": "s", "type": "nominal", "scale": {"domain": ["NaCl","KCl","MgCl2","CaCl2"], "range": ["#1f77b4","#aec7e8","#ffbb78","#ff7f0e"]}, "legend": null}}},
        {"data": {"name": "aPts"}, "mark": {"type": "point", "filled": true, "size": 30, "opacity": 1},
         "encoding": {"x": {"field": "a", "type": "quantitative", "title": "a [M]"}, "y": {"field": "R", "type": "quantitative", "title": "Rₕ [Å]"},
           "color": {"field": "s", "type": "nominal", "scale": {"domain": ["NaCl","KCl","MgCl2","CaCl2"], "range": ["#1f77b4","#aec7e8","#ffbb78","#ff7f0e"]}, "legend": null},
           "shape": {"field": "s", "type": "nominal", "scale": {"domain": ["NaCl","KCl","MgCl2","CaCl2"], "range": ["triangle-down","triangle-up","square","circle"]}, "legend": null}}},
        {"data": {"name": "aRef"}, "mark": {"type": "point", "filled": false, "size": 120, "strokeWidth": 2, "opacity": 1},
         "encoding": {"x": {"field": "a", "type": "quantitative", "title": "a [M]"}, "y": {"field": "R", "type": "quantitative", "title": "Rₕ [Å]"},
           "color": {"field": "m", "type": "nominal", "scale": {"domain": ["Dignon, I 0 mM","Dignon, I 100 mM","GLM"], "range": ["#ff9896","#d62728","#000000"]},
             "legend": {"title": null, "orient": "none", "legendX": 9, "legendY": 4, "symbolSize": 110, "symbolStrokeWidth": 2, "labelOffset": 9, "rowPadding": -3, "labelExpr": "datum.label == 'Dignon, I 0 mM' ? 'Dignon, I \u2007\u20070 mM' : datum.label"}},
           "shape": {"field": "m", "type": "nominal", "scale": {"domain": ["Dignon, I 0 mM","Dignon, I 100 mM","GLM"], "range": ["triangle-down","triangle-down","circle"]},
             "legend": {"title": null, "orient": "none", "legendX": 9, "legendY": 4, "symbolSize": 110, "symbolStrokeWidth": 2, "labelOffset": 9, "rowPadding": -3, "labelExpr": "datum.label == 'Dignon, I 0 mM' ? 'Dignon, I \u2007\u20070 mM' : datum.label"}}}},
        {"data": {"values": [{}]}, "mark": {"type": "text", "align": "right", "baseline": "middle", "fontSize": 13, "font": "Liberation Sans", "color": "#111"},
         "encoding": {"x": {"datum": 2.1}, "y": {"datum": 122.5}, "text": {"value": "FCS, 25 °C"}}}
      ]
    },
    {
      "width": 265, "height": 166,
      "title": {"text": "D", "dx": -46, "offset": -12},
      "resolve": {"scale": {"color": "independent", "shape": "independent"}},
      "layer": [
        {"data": {"name": "nsEnv"}, "mark": {"type": "line", "color": "#8c8c8c", "strokeWidth": 0.8, "interpolate": "monotone"},
         "encoding": {
           "x": {"field": "w", "type": "quantitative", "title": "λ [nm]", "scale": {"domain": [190, 250], "nice": false},
             "axis": {"labelOverlap": false, "values": [190,200,210,220,230,240,250], "labelExpr": "datum.value % 20 == 0 ? datum.label : ''", "tickSize": {"condition": {"test": "datum.value % 20 != 0", "value": 2.5}, "value": 5}}},
           "y": {"field": "v", "type": "quantitative", "title": "Δε [M⁻¹ cm⁻¹]", "scale": {"domain": [-8, 2], "nice": false},
             "axis": {"labelOverlap": false, "values": [-8,-7,-6,-5,-4,-3,-2,-1,0,1,2], "labelExpr": "datum.value % 2 == 0 ? datum.label : ''", "tickSize": {"condition": {"test": "datum.value % 2 != 0", "value": 2.5}, "value": 5}}},
           "detail": {"field": "g"}}},
        {"data": {"name": "dEnv"}, "mark": {"type": "line", "color": "#ffc288", "strokeWidth": 0.8, "interpolate": "monotone"},
         "encoding": {"x": {"field": "w", "type": "quantitative", "title": "λ [nm]"},
           "y": {"field": "v", "type": "quantitative", "title": "Δε [M⁻¹ cm⁻¹]", "axis": {"labelOverlap": false, "values": [-8,-7,-6,-5,-4,-3,-2,-1,0,1,2], "labelExpr": "datum.value % 2 == 0 ? datum.label : ''", "tickSize": {"condition": {"test": "datum.value % 2 != 0", "value": 2.5}, "value": 5}}}, "detail": {"field": "g"}}},
        {"data": {"values": [{}]}, "mark": {"type": "rule", "strokeDash": [2, 2], "color": "#333", "strokeWidth": 1},
         "encoding": {"y": {"datum": 0, "axis": {"labelOverlap": false, "values": [-8,-7,-6,-5,-4,-3,-2,-1,0,1,2], "labelExpr": "datum.value % 2 == 0 ? datum.label : ''", "tickSize": {"condition": {"test": "datum.value % 2 != 0", "value": 2.5}, "value": 5}}}}},
        {"data": {"name": "nsFit"}, "mark": {"type": "line", "color": "#000", "strokeWidth": 1.3, "interpolate": "monotone"},
         "encoding": {"x": {"field": "w", "type": "quantitative", "title": "λ [nm]"},
           "y": {"field": "v", "type": "quantitative", "title": "Δε [M⁻¹ cm⁻¹]", "axis": {"labelOverlap": false, "values": [-8,-7,-6,-5,-4,-3,-2,-1,0,1,2], "labelExpr": "datum.value % 2 == 0 ? datum.label : ''", "tickSize": {"condition": {"test": "datum.value % 2 != 0", "value": 2.5}, "value": 5}}}}},
        {"data": {"name": "dFit"}, "mark": {"type": "line", "strokeWidth": 1.6, "interpolate": "monotone"},
         "encoding": {"x": {"field": "w", "type": "quantitative", "title": "λ [nm]"},
           "y": {"field": "v", "type": "quantitative", "title": "Δε [M⁻¹ cm⁻¹]", "axis": {"labelOverlap": false, "values": [-8,-7,-6,-5,-4,-3,-2,-1,0,1,2], "labelExpr": "datum.value % 2 == 0 ? datum.label : ''", "tickSize": {"condition": {"test": "datum.value % 2 != 0", "value": 2.5}, "value": 5}}},
           "color": {"field": "s", "type": "nominal", "scale": {"domain": ["no salt","150 mM Ca²⁺","150 mM Mg²⁺"], "range": ["#000000","#ff9a40","#ffbb78"]},
             "legend": {"title": null, "orient": "none", "legendX": 166, "legendY": 113, "symbolSize": 100, "labelOffset": 14, "rowPadding": -1, "symbolStrokeWidth": 1.5,
               "encode": {"symbols": {"update": {
                 "shape": {"signal": "datum.value == 'no salt' ? 'M-2,-0.3H-1.4V0.3H-2Z M-0.9,0H2' : datum.value == '150 mM Ca²⁺' ? 'M-2.05,0A0.35,0.35,0,1,1,-1.35,0A0.35,0.35,0,1,1,-2.05,0Z M-0.9,0H2' : 'M-1.7,-0.4L-1.3,0.3H-2.1Z M-0.9,0H2'"},
                 "fill": {"signal": "datum.value == 'no salt' ? '#000000' : datum.value == '150 mM Ca²⁺' ? '#ff7f0e' : '#ffbb78'"}}}}}}}},
        {"data": {"name": "nsPts"}, "mark": {"type": "point", "shape": "square", "filled": true, "size": 12, "color": "#000", "opacity": 1},
         "encoding": {"x": {"field": "w", "type": "quantitative", "title": "λ [nm]"},
           "y": {"field": "v", "type": "quantitative", "title": "Δε [M⁻¹ cm⁻¹]", "axis": {"labelOverlap": false, "values": [-8,-7,-6,-5,-4,-3,-2,-1,0,1,2], "labelExpr": "datum.value % 2 == 0 ? datum.label : ''", "tickSize": {"condition": {"test": "datum.value % 2 != 0", "value": 2.5}, "value": 5}}}}},
        {"data": {"name": "dPts"}, "mark": {"type": "point", "filled": true, "size": 14, "opacity": 1},
         "encoding": {"x": {"field": "w", "type": "quantitative", "title": "λ [nm]"},
           "y": {"field": "v", "type": "quantitative", "title": "Δε [M⁻¹ cm⁻¹]", "axis": {"labelOverlap": false, "values": [-8,-7,-6,-5,-4,-3,-2,-1,0,1,2], "labelExpr": "datum.value % 2 == 0 ? datum.label : ''", "tickSize": {"condition": {"test": "datum.value % 2 != 0", "value": 2.5}, "value": 5}}},
           "color": {"field": "s", "type": "nominal", "scale": {"domain": ["150 mM Ca²⁺","150 mM Mg²⁺"], "range": ["#ff7f0e","#ffbb78"]}, "legend": null},
           "shape": {"field": "s", "type": "nominal", "scale": {"domain": ["150 mM Ca²⁺","150 mM Mg²⁺"], "range": ["circle","triangle-up"]}, "legend": null}}}
      ]
    },
    {
      "width": 265, "height": 161,
      "title": {"text": "B", "dx": -50, "offset": -5},
      "resolve": {"scale": {"color": "independent", "shape": "independent"}},
      "layer": [
        {"data": {"name": "bFit"}, "mark": {"type": "line", "interpolate": "monotone", "strokeWidth": 1.2, "clip": true},
         "encoding": {
           "x": {"field": "a", "type": "quantitative", "title": "a [M]", "scale": {"type": "log", "domain": [5e-10, 10], "nice": false},
             "axis": {"labelOverlap": false, "values": [5e-10,6e-10,7e-10,8e-10,9e-10,1e-9,2e-9,3e-9,4e-9,5e-9,6e-9,7e-9,8e-9,9e-9,1e-8,2e-8,3e-8,4e-8,5e-8,6e-8,7e-8,8e-8,9e-8,1e-7,2e-7,3e-7,4e-7,5e-7,6e-7,7e-7,8e-7,9e-7,1e-6,2e-6,3e-6,4e-6,5e-6,6e-6,7e-6,8e-6,9e-6,1e-5,2e-5,3e-5,4e-5,5e-5,6e-5,7e-5,8e-5,9e-5,1e-4,2e-4,3e-4,4e-4,5e-4,6e-4,7e-4,8e-4,9e-4,0.001,0.002,0.003,0.004,0.005,0.006,0.007,0.008,0.009,0.01,0.02,0.03,0.04,0.05,0.06,0.07,0.08,0.09,0.1,0.2,0.3,0.4,0.5,0.6,0.7,0.8,0.9,1,2,3,4,5,6,7,8,9,10],
               "labelExpr": "abs(log(datum.value)/LN10 - round(log(datum.value)/LN10)) > 0.01 ? '' : round(log(datum.value)/LN10) == -8 ? '10⁻⁸' : round(log(datum.value)/LN10) == -6 ? '10⁻⁶' : round(log(datum.value)/LN10) == -4 ? '10⁻⁴' : round(log(datum.value)/LN10) == -2 ? '10⁻²' : round(log(datum.value)/LN10) == 0 ? '10⁰' : ''",
               "tickSize": {"condition": {"test": "abs(log(datum.value)/LN10 - round(log(datum.value)/LN10)) > 0.01", "value": 2.5}, "value": 5}}},
           "y": {"field": "R", "type": "quantitative", "title": "Rₕ [Å]", "scale": {"domain": [36.5, 129.2], "nice": false},
             "axis": {"labelOverlap": false, "values": [40,50,60,70,80,90,100,110,120], "labelExpr": "datum.value % 20 == 0 ? datum.label : ''", "tickSize": {"condition": {"test": "datum.value % 20 != 0", "value": 2.5}, "value": 5}}},
           "color": {"field": "s", "type": "nominal", "scale": {"domain": ["NaCl","KCl","MgCl2","CaCl2"], "range": ["#1f77b4","#aec7e8","#ffbb78","#ff7f0e"]}, "legend": null}}},
        {"data": {"name": "bPts"}, "mark": {"type": "errorbar", "ticks": {"size": 5}, "thickness": 1},
         "encoding": {"x": {"field": "a", "type": "quantitative", "title": "a [M]"}, "y": {"field": "R", "type": "quantitative", "title": "Rₕ [Å]"}, "yError": {"field": "e"},
           "color": {"field": "s", "type": "nominal", "scale": {"domain": ["NaCl","KCl","MgCl2","CaCl2"], "range": ["#1f77b4","#aec7e8","#ffbb78","#ff7f0e"]}, "legend": null}}},
        {"data": {"name": "bPts"}, "mark": {"type": "point", "filled": false, "size": 32, "strokeWidth": 1.2, "opacity": 1},
         "encoding": {"x": {"field": "a", "type": "quantitative", "title": "a [M]"}, "y": {"field": "R", "type": "quantitative", "title": "Rₕ [Å]"},
           "color": {"field": "s", "type": "nominal", "scale": {"domain": ["NaCl","KCl","MgCl2","CaCl2"], "range": ["#1f77b4","#aec7e8","#ffbb78","#ff7f0e"]}, "legend": null},
           "shape": {"field": "s", "type": "nominal", "scale": {"domain": ["NaCl","KCl","MgCl2","CaCl2"], "range": ["triangle-down","triangle-up","square","circle"]}, "legend": null}}},
        {"data": {"name": "bRef"}, "mark": {"type": "point", "filled": false, "size": 120, "strokeWidth": 2, "opacity": 1},
         "encoding": {"x": {"field": "a", "type": "quantitative", "title": "a [M]"}, "y": {"field": "R", "type": "quantitative", "title": "Rₕ [Å]"},
           "color": {"field": "m", "type": "nominal", "scale": {"domain": ["Dignon, I 0 mM","Dignon, I 100 mM","GLM"], "range": ["#c49c94","#8c564b","#000000"]},
             "legend": {"title": null, "orient": "none", "legendX": 9, "legendY": 112, "symbolSize": 110, "symbolStrokeWidth": 2, "labelOffset": 9, "rowPadding": -3, "labelExpr": "datum.label == 'Dignon, I 0 mM' ? 'Dignon, I \u2007\u20070 mM' : datum.label"}},
           "shape": {"field": "m", "type": "nominal", "scale": {"domain": ["Dignon, I 0 mM","Dignon, I 100 mM","GLM"], "range": ["triangle-up","triangle-up","circle"]},
             "legend": {"title": null, "orient": "none", "legendX": 9, "legendY": 112, "symbolSize": 110, "symbolStrokeWidth": 2, "labelOffset": 9, "rowPadding": -3, "labelExpr": "datum.label == 'Dignon, I 0 mM' ? 'Dignon, I \u2007\u20070 mM' : datum.label"}}}},
        {"data": {"values": [{}]}, "mark": {"type": "text", "align": "right", "baseline": "middle", "fontSize": 13, "font": "Liberation Sans", "color": "#111"},
         "encoding": {"x": {"datum": 2.9}, "y": {"datum": 120}, "text": {"value": "SEC, 10 °C"}}}
      ]
    },
    {
      "width": 265, "height": 166,
      "title": {"text": "E", "dx": -46, "offset": -15},
      "resolve": {"scale": {"color": "independent", "shape": "independent"}},
      "layer": [
        {"data": {"name": "nsEnv"}, "mark": {"type": "line", "color": "#8c8c8c", "strokeWidth": 0.8, "interpolate": "monotone"},
         "encoding": {
           "x": {"field": "w", "type": "quantitative", "title": "λ [nm]", "scale": {"domain": [190, 250], "nice": false},
             "axis": {"labelOverlap": false, "values": [190,200,210,220,230,240,250], "labelExpr": "datum.value % 20 == 0 ? datum.label : ''", "tickSize": {"condition": {"test": "datum.value % 20 != 0", "value": 2.5}, "value": 5}}},
           "y": {"field": "v", "type": "quantitative", "title": "Δε [M⁻¹ cm⁻¹]", "scale": {"domain": [-8, 2], "nice": false},
             "axis": {"labelOverlap": false, "values": [-8,-7,-6,-5,-4,-3,-2,-1,0,1,2], "labelExpr": "datum.value % 2 == 0 ? datum.label : ''", "tickSize": {"condition": {"test": "datum.value % 2 != 0", "value": 2.5}, "value": 5}}},
           "detail": {"field": "g"}}},
        {"data": {"name": "eEnv"}, "mark": {"type": "line", "color": "#a9cbe8", "strokeWidth": 0.8, "interpolate": "monotone"},
         "encoding": {"x": {"field": "w", "type": "quantitative", "title": "λ [nm]"},
           "y": {"field": "v", "type": "quantitative", "title": "Δε [M⁻¹ cm⁻¹]", "axis": {"labelOverlap": false, "values": [-8,-7,-6,-5,-4,-3,-2,-1,0,1,2], "labelExpr": "datum.value % 2 == 0 ? datum.label : ''", "tickSize": {"condition": {"test": "datum.value % 2 != 0", "value": 2.5}, "value": 5}}}, "detail": {"field": "g"}}},
        {"data": {"values": [{}]}, "mark": {"type": "rule", "strokeDash": [2, 2], "color": "#333", "strokeWidth": 1},
         "encoding": {"y": {"datum": 0, "axis": {"labelOverlap": false, "values": [-8,-7,-6,-5,-4,-3,-2,-1,0,1,2], "labelExpr": "datum.value % 2 == 0 ? datum.label : ''", "tickSize": {"condition": {"test": "datum.value % 2 != 0", "value": 2.5}, "value": 5}}}}},
        {"data": {"name": "nsFit"}, "mark": {"type": "line", "color": "#000", "strokeWidth": 1.3, "interpolate": "monotone"},
         "encoding": {"x": {"field": "w", "type": "quantitative", "title": "λ [nm]"},
           "y": {"field": "v", "type": "quantitative", "title": "Δε [M⁻¹ cm⁻¹]", "axis": {"labelOverlap": false, "values": [-8,-7,-6,-5,-4,-3,-2,-1,0,1,2], "labelExpr": "datum.value % 2 == 0 ? datum.label : ''", "tickSize": {"condition": {"test": "datum.value % 2 != 0", "value": 2.5}, "value": 5}}}}},
        {"data": {"name": "eFit"}, "mark": {"type": "line", "strokeWidth": 1.6, "interpolate": "monotone"},
         "encoding": {"x": {"field": "w", "type": "quantitative", "title": "λ [nm]"},
           "y": {"field": "v", "type": "quantitative", "title": "Δε [M⁻¹ cm⁻¹]", "axis": {"labelOverlap": false, "values": [-8,-7,-6,-5,-4,-3,-2,-1,0,1,2], "labelExpr": "datum.value % 2 == 0 ? datum.label : ''", "tickSize": {"condition": {"test": "datum.value % 2 != 0", "value": 2.5}, "value": 5}}},
           "color": {"field": "s", "type": "nominal", "scale": {"domain": ["no salt","150 mM Na⁺","150 mM K⁺"], "range": ["#000000","#1f77b4","#aec7e8"]},
             "legend": {"title": null, "orient": "none", "legendX": 166, "legendY": 118, "symbolSize": 100, "labelOffset": 14, "rowPadding": -1.5, "symbolStrokeWidth": 1.5,
               "encode": {"symbols": {"update": {
                 "shape": {"signal": "datum.value == 'no salt' ? 'M-2,-0.3H-1.4V0.3H-2Z M-0.9,0H2' : datum.value == '150 mM Na⁺' ? 'M-1.7,0.4L-1.3,-0.3H-2.1Z M-0.9,0H2' : 'M-1.7,-0.4L-1.3,0L-1.7,0.4L-2.1,0Z M-0.9,0H2'"},
                 "fill": {"signal": "datum.value == 'no salt' ? '#000000' : datum.value == '150 mM Na⁺' ? '#1f77b4' : '#aec7e8'"}}}}}}}},
        {"data": {"name": "nsPts"}, "mark": {"type": "point", "shape": "square", "filled": true, "size": 12, "color": "#000", "opacity": 1},
         "encoding": {"x": {"field": "w", "type": "quantitative", "title": "λ [nm]"},
           "y": {"field": "v", "type": "quantitative", "title": "Δε [M⁻¹ cm⁻¹]", "axis": {"labelOverlap": false, "values": [-8,-7,-6,-5,-4,-3,-2,-1,0,1,2], "labelExpr": "datum.value % 2 == 0 ? datum.label : ''", "tickSize": {"condition": {"test": "datum.value % 2 != 0", "value": 2.5}, "value": 5}}}}},
        {"data": {"name": "ePts"}, "mark": {"type": "point", "filled": true, "size": 14, "opacity": 1},
         "encoding": {"x": {"field": "w", "type": "quantitative", "title": "λ [nm]"},
           "y": {"field": "v", "type": "quantitative", "title": "Δε [M⁻¹ cm⁻¹]", "axis": {"labelOverlap": false, "values": [-8,-7,-6,-5,-4,-3,-2,-1,0,1,2], "labelExpr": "datum.value % 2 == 0 ? datum.label : ''", "tickSize": {"condition": {"test": "datum.value % 2 != 0", "value": 2.5}, "value": 5}}},
           "color": {"field": "s", "type": "nominal", "scale": {"domain": ["150 mM Na⁺","150 mM K⁺"], "range": ["#1f77b4","#aec7e8"]}, "legend": null},
           "shape": {"field": "s", "type": "nominal", "scale": {"domain": ["150 mM Na⁺","150 mM K⁺"], "range": ["triangle-down","diamond"]}, "legend": null}}}
      ]
    },
    {
      "width": 265, "height": 164,
      "title": {"text": "C", "dx": -50, "offset": 6},
      "resolve": {"scale": {"color": "independent", "shape": "independent", "fill": "independent", "stroke": "independent"}},
      "layer": [
        {"data": {"name": "cTheory"}, "mark": {"type": "line", "interpolate": "monotone", "strokeWidth": 1.2, "color": "#444"},
         "encoding": {
           "x": {"field": "I", "type": "quantitative", "title": "I¹ᐟ² [M¹ᐟ²]", "scale": {"domain": [0, 1.7], "nice": false},
             "axis": {"labelOverlap": false, "values": [0,0.25,0.5,0.75,1,1.25,1.5], "labelExpr": "round(datum.value*4) % 2 == 1 ? '' : format(datum.value, '.1f')", "tickSize": {"condition": {"test": "round(datum.value*4) % 2 == 1", "value": 2.5}, "value": 5}}},
           "y": {"field": "R", "type": "quantitative", "title": "Rₕ [Å]", "scale": {"domain": [35, 128.6], "nice": false},
             "axis": {"labelOverlap": false, "values": [40,50,60,70,80,90,100,110,120], "labelExpr": "datum.value % 20 == 0 ? datum.label : ''", "tickSize": {"condition": {"test": "datum.value % 20 != 0", "value": 2.5}, "value": 5}}},
           "strokeDash": {"field": "t", "type": "nominal", "scale": {"domain": ["25 °C","10 °C"], "range": [[1,0],[3,2]]},
             "legend": {"title": null, "orient": "none", "legendX": 143, "legendY": 70, "columns": 2, "symbolType": "stroke", "symbolSize": 200, "symbolStrokeWidth": 1.2, "symbolStrokeColor": "#444", "labelOffset": 14, "labelFontSize": 12.5, "columnPadding": 0, "labelExpr": "datum.value == '10 °C' ? '\u2007Theory' : ''"}}}},
        {"data": {"name": "cPts"}, "mark": {"type": "errorbar", "ticks": {"size": 5}, "thickness": 1},
         "encoding": {"x": {"field": "I", "type": "quantitative", "title": "I¹ᐟ² [M¹ᐟ²]"}, "y": {"field": "R", "type": "quantitative", "title": "Rₕ [Å]"}, "yError": {"field": "e"},
           "color": {"field": "s", "type": "nominal", "scale": {"domain": ["NaCl 25","KCl 25","MgCl2 25","CaCl2 25","NaCl 10","KCl 10","MgCl2 10","CaCl2 10"], "range": ["#1f77b4","#aec7e8","#ffbb78","#ff7f0e","#1f77b4","#aec7e8","#ffbb78","#ff7f0e"]}, "legend": null}}},
        {"data": {"name": "cPts"}, "mark": {"type": "point", "filled": true, "size": 30, "strokeWidth": 1.2, "opacity": 1},
         "encoding": {"x": {"field": "I", "type": "quantitative", "title": "I¹ᐟ² [M¹ᐟ²]"}, "y": {"field": "R", "type": "quantitative", "title": "Rₕ [Å]"},
           "stroke": {"field": "s", "type": "nominal", "scale": {"domain": ["NaCl 25","KCl 25","MgCl2 25","CaCl2 25","NaCl 10","KCl 10","MgCl2 10","CaCl2 10"], "range": ["#1f77b4","#aec7e8","#ffbb78","#ff7f0e","#1f77b4","#aec7e8","#ffbb78","#ff7f0e"]}, "legend": null},
           "fill": {"field": "s", "type": "nominal", "scale": {"domain": ["NaCl 25","KCl 25","MgCl2 25","CaCl2 25","NaCl 10","KCl 10","MgCl2 10","CaCl2 10"], "range": ["#1f77b4","#aec7e8","#ffbb78","#ff7f0e","transparent","transparent","transparent","transparent"]}, "legend": null},
           "shape": {"field": "s", "type": "nominal", "scale": {"domain": ["NaCl 25","KCl 25","MgCl2 25","CaCl2 25","NaCl 10","KCl 10","MgCl2 10","CaCl2 10"], "range": ["triangle-down","triangle-up","square","circle","triangle-down","triangle-up","square","circle"]},
             "legend": {"title": "T\u00a025\u00a0\u00a0\u00a010\u00a0°C", "orient": "none", "legendX": 149, "legendY": 2, "columns": 2, "titleFontSize": 13, "titleFontWeight": "normal", "titlePadding": 1, "symbolSize": 28, "labelOffset": 22, "labelFontSize": 12.5, "columnPadding": 0, "rowPadding": 0,
               "labelExpr": "datum.value == 'NaCl 10' ? '\u2007\u2007\u2007\u2009NaCl' : datum.value == 'KCl 10' ? '\u2007\u2007\u2007\u2009KCl' : datum.value == 'MgCl2 10' ? '\u2007\u2007\u2007\u2009MgCl₂' : datum.value == 'CaCl2 10' ? '\u2007\u2007\u2007\u2009CaCl₂' : ''",
               "encode": {"symbols": {"update": {
                 "stroke": {"signal": "indexOf(datum.value, 'NaCl') == 0 ? '#1f77b4' : indexOf(datum.value, 'KCl') == 0 ? '#aec7e8' : indexOf(datum.value, 'MgCl2') == 0 ? '#ffbb78' : '#ff7f0e'"},
                 "fill": {"signal": "slice(datum.value, -2) == '25' ? (indexOf(datum.value, 'NaCl') == 0 ? '#1f77b4' : indexOf(datum.value, 'KCl') == 0 ? '#aec7e8' : indexOf(datum.value, 'MgCl2') == 0 ? '#ffbb78' : '#ff7f0e') : 'transparent'"},
                 "strokeWidth": {"value": 1.2}}}}}}}}
      ]
    },
    {
      "width": 265, "height": 166,
      "title": {"text": "F", "dx": -46, "offset": -5},
      "resolve": {"scale": {"fill": "independent", "shape": "independent", "color": "independent"}},
      "layer": [
        {"data": {"name": "fBands"}, "mark": {"type": "rule", "strokeWidth": 5, "opacity": 1},
         "encoding": {
           "x": {"field": "dg", "type": "quantitative", "title": "ΔGᵒ [kcal/mol]", "scale": {"domain": [-4.5, 0.5], "nice": false},
             "axis": {"labelOverlap": false, "values": [-4.5,-4,-3.5,-3,-2.5,-2,-1.5,-1,-0.5,0,0.5], "labelExpr": "datum.value % 1 == 0 ? format(datum.value, 'd') : ''", "tickSize": {"condition": {"test": "datum.value % 1 != 0", "value": 2.5}, "value": 5}}},
           "color": {"field": "g", "type": "nominal", "scale": {"domain": ["MgCl2","CaCl2","NaCl","KCl"], "range": ["#ffbb78","#ff7f0e","#1f77b4","#aec7e8"]}, "legend": null}}},
        {"data": {"name": "fPts"}, "transform": [{"filter": "datum.e > 0"}], "mark": {"type": "errorbar", "ticks": {"size": 5}, "color": "#000", "thickness": 1},
         "encoding": {
           "x": {"field": "dg", "type": "quantitative", "title": "ΔGᵒ [kcal/mol]", "axis": {"labelOverlap": false, "values": [-4.5,-4,-3.5,-3,-2.5,-2,-1.5,-1,-0.5,0,0.5], "labelExpr": "datum.value % 1 == 0 ? format(datum.value, 'd') : ''", "tickSize": {"condition": {"test": "datum.value % 1 != 0", "value": 2.5}, "value": 5}}},
           "xError": {"field": "e"},
           "y": {"field": "v", "type": "quantitative", "title": "Content [%]", "scale": {"domain": [-5.5, 100], "nice": false},
             "axis": {"labelOverlap": false, "values": [0,10,20,30,40,50,60,70,80,90,100], "labelExpr": "datum.value % 20 == 0 ? datum.label : ''", "tickSize": {"condition": {"test": "datum.value % 20 != 0", "value": 2.5}, "value": 5}}}}},
        {"data": {"name": "fPts"}, "transform": [{"filter": "datum.t == 'others'"}], "mark": {"type": "point", "shape": "diamond", "filled": true, "size": 55, "stroke": "#000", "strokeWidth": 1, "opacity": 1},
         "encoding": {"x": {"field": "dg", "type": "quantitative", "title": "ΔGᵒ [kcal/mol]", "axis": {"labelOverlap": false, "values": [-4.5,-4,-3.5,-3,-2.5,-2,-1.5,-1,-0.5,0,0.5], "labelExpr": "datum.value % 1 == 0 ? format(datum.value, 'd') : ''", "tickSize": {"condition": {"test": "datum.value % 1 != 0", "value": 2.5}, "value": 5}}},
           "y": {"field": "v", "type": "quantitative", "title": "Content [%]", "axis": {"labelOverlap": false, "values": [0,10,20,30,40,50,60,70,80,90,100], "labelExpr": "datum.value % 20 == 0 ? datum.label : ''", "tickSize": {"condition": {"test": "datum.value % 20 != 0", "value": 2.5}, "value": 5}}},
           "fill": {"field": "g", "type": "nominal", "scale": {"domain": ["MgCl2","CaCl2","NaCl","KCl","none"], "range": ["#ffbb78","#ff7f0e","#1f77b4","#aec7e8","#ffffff"]}, "legend": null}}},
        {"data": {"name": "fPts"}, "transform": [{"filter": "datum.t != 'others'"}], "mark": {"type": "point", "filled": true, "size": 50, "stroke": "#000", "strokeWidth": 1, "opacity": 1},
         "encoding": {"x": {"field": "dg", "type": "quantitative", "title": "ΔGᵒ [kcal/mol]", "axis": {"labelOverlap": false, "values": [-4.5,-4,-3.5,-3,-2.5,-2,-1.5,-1,-0.5,0,0.5], "labelExpr": "datum.value % 1 == 0 ? format(datum.value, 'd') : ''", "tickSize": {"condition": {"test": "datum.value % 1 != 0", "value": 2.5}, "value": 5}}},
           "y": {"field": "v", "type": "quantitative", "title": "Content [%]", "axis": {"labelOverlap": false, "values": [0,10,20,30,40,50,60,70,80,90,100], "labelExpr": "datum.value % 20 == 0 ? datum.label : ''", "tickSize": {"condition": {"test": "datum.value % 20 != 0", "value": 2.5}, "value": 5}}},
           "shape": {"field": "t", "type": "nominal", "scale": {"domain": ["others","β-turn","α-helix"], "range": ["diamond","circle","square"]},
             "legend": {"title": null, "orient": "none", "legendX": 173, "legendY": 58, "symbolSize": 50, "labelOffset": 6, "rowPadding": -1.5, "symbolStrokeColor": "#000", "symbolStrokeWidth": 1}},
           "fill": {"field": "t", "type": "nominal", "scale": {"domain": ["others","β-turn","α-helix"], "range": ["#ffffff","#000000","#000000"]},
             "legend": {"title": null, "orient": "none", "legendX": 173, "legendY": 58, "symbolSize": 50, "labelOffset": 6, "rowPadding": -1.5, "symbolStrokeColor": "#000", "symbolStrokeWidth": 1}}}}
      ]
    }
  ]
}
